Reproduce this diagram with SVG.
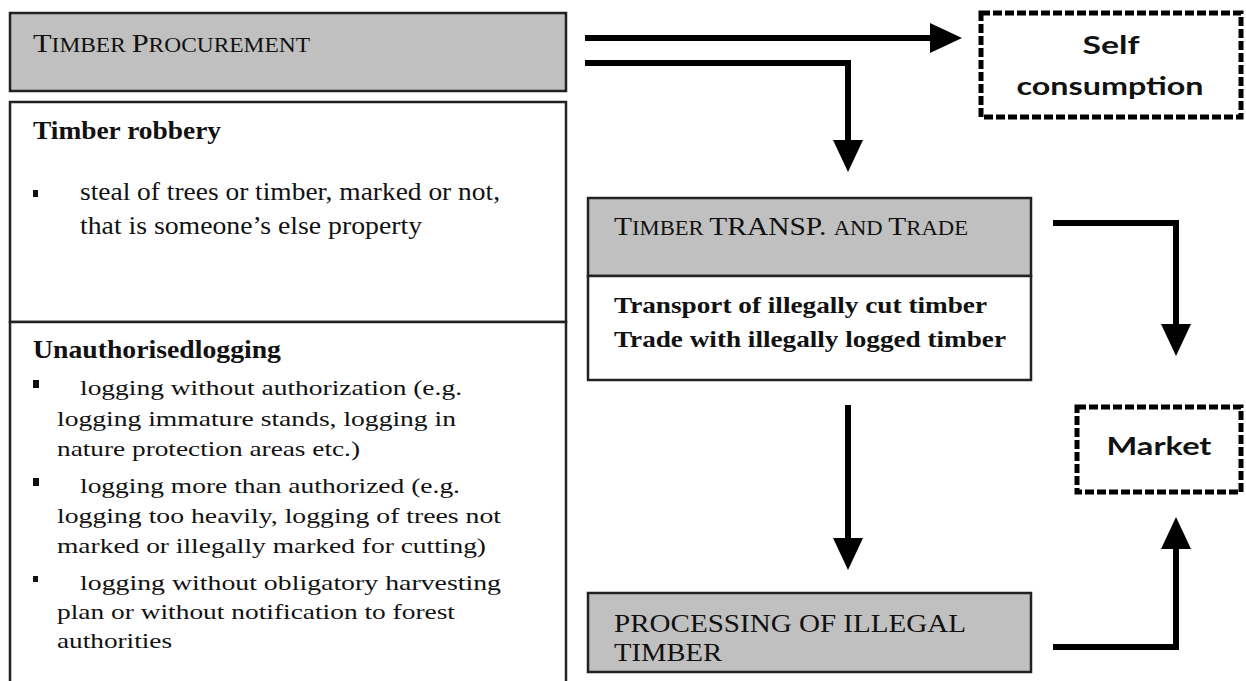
<svg xmlns="http://www.w3.org/2000/svg" width="1246" height="681" viewBox="0 0 1246 681">
<style>
.box{stroke:#222;stroke-width:2.5}
.gray{fill:#c0c0c0}
.white{fill:#fff}
.dot{fill:#fff;stroke:#000;stroke-width:5;stroke-dasharray:9 3}
.serif{font-family:"Liberation Serif","Times New Roman",serif;fill:#111}
.b{font-weight:bold}
.sans{font-family:Lato,"Open Sans","Liberation Sans",sans-serif;font-weight:bold;fill:#111;font-size:25px}
.conn{fill:none;stroke:#000;stroke-width:6}
</style>
<defs>
<marker id="ah" markerUnits="userSpaceOnUse" markerWidth="32" markerHeight="30" refX="0" refY="15" orient="auto">
<path d="M0,0 L32,15 L0,30 Z" fill="#000"/>
</marker>
</defs>
<rect width="1246" height="681" fill="#fff"/>
<g id="timber-procurement">
<rect class="box gray" x="10" y="13" width="556" height="78"/>
<text class="serif" x="33" y="52" font-size="26" textLength="277" lengthAdjust="spacingAndGlyphs">T<tspan font-size="20">IMBER </tspan>P<tspan font-size="20">ROCUREMENT</tspan></text>
</g>
<g id="timber-robbery">
<rect class="box white" x="10" y="102" width="556" height="220"/>
<text class="serif b" x="33" y="139" font-size="26" textLength="188" lengthAdjust="spacingAndGlyphs">Timber robbery</text>
<rect x="33" y="190" width="5" height="7" fill="#111"/>
<text class="serif" x="80" y="200" font-size="25" textLength="420" lengthAdjust="spacingAndGlyphs">steal of trees or timber, marked or not,</text>
<text class="serif" x="80" y="234" font-size="25" textLength="342" lengthAdjust="spacingAndGlyphs">that is someone’s else property</text>
</g>
<g id="unauthorised-logging">
<rect class="box white" x="10" y="322" width="556" height="370"/>
<text class="serif b" x="33" y="358" font-size="25" textLength="248" lengthAdjust="spacingAndGlyphs">Unauthorisedlogging</text>
<rect x="33" y="380" width="6" height="8" fill="#111"/>
<text class="serif" x="80" y="395" font-size="22" textLength="382" lengthAdjust="spacingAndGlyphs">logging without authorization (e.g.</text>
<text class="serif" x="57" y="426" font-size="22" textLength="399" lengthAdjust="spacingAndGlyphs">logging immature stands, logging in</text>
<text class="serif" x="57" y="456" font-size="22" textLength="303" lengthAdjust="spacingAndGlyphs">nature protection areas etc.)</text>
<rect x="33" y="478" width="6" height="8" fill="#111"/>
<text class="serif" x="80" y="493" font-size="22" textLength="380" lengthAdjust="spacingAndGlyphs">logging more than authorized (e.g.</text>
<text class="serif" x="57" y="523" font-size="22" textLength="444" lengthAdjust="spacingAndGlyphs">logging too heavily, logging of trees not</text>
<text class="serif" x="57" y="553" font-size="22" textLength="429" lengthAdjust="spacingAndGlyphs">marked or illegally marked for cutting)</text>
<rect x="33" y="576" width="5" height="6" fill="#111"/>
<text class="serif" x="80" y="590" font-size="22" textLength="421" lengthAdjust="spacingAndGlyphs">logging without obligatory harvesting</text>
<text class="serif" x="57" y="619" font-size="22" textLength="398" lengthAdjust="spacingAndGlyphs">plan or without notification to forest</text>
<text class="serif" x="57" y="648" font-size="22" textLength="115" lengthAdjust="spacingAndGlyphs">authorities</text>
</g>
<g id="self-consumption">
<rect class="dot" x="981" y="13" width="260" height="104"/>
<text class="sans" x="1111" y="54" text-anchor="middle" textLength="57" lengthAdjust="spacingAndGlyphs">Self</text>
<text class="sans" x="1110" y="95" text-anchor="middle" textLength="187" lengthAdjust="spacingAndGlyphs">consumption</text>
</g>
<g id="timber-transp-trade">
<rect class="box gray" x="588" y="198" width="443" height="78"/>
<rect class="box white" x="588" y="276" width="443" height="104"/>
<text class="serif" x="614" y="235" font-size="26" textLength="354" lengthAdjust="spacingAndGlyphs">T<tspan font-size="20">IMBER </tspan>TRANSP. <tspan font-size="20">AND </tspan>T<tspan font-size="20">RADE</tspan></text>
<text class="serif b" x="614" y="313" font-size="24" textLength="373" lengthAdjust="spacingAndGlyphs">Transport of illegally cut timber</text>
<text class="serif b" x="614" y="347" font-size="24" textLength="392" lengthAdjust="spacingAndGlyphs">Trade with illegally logged timber</text>
</g>
<g id="market">
<rect class="dot" x="1077" y="407" width="164" height="85"/>
<text class="sans" x="1159" y="455" text-anchor="middle" textLength="105" lengthAdjust="spacingAndGlyphs">Market</text>
</g>
<g id="processing">
<rect class="box gray" x="588" y="593" width="443" height="79"/>
<text class="serif" x="614" y="632" font-size="26" textLength="352" lengthAdjust="spacingAndGlyphs">PROCESSING OF ILLEGAL</text>
<text class="serif" x="614" y="661" font-size="26" textLength="108" lengthAdjust="spacingAndGlyphs">TIMBER</text>
</g>
<g id="connectors">
<path class="conn" d="M585,38 H930" marker-end="url(#ah)"/>
<path class="conn" d="M585,63 H848 V140" marker-end="url(#ah)"/>
<path class="conn" d="M1053,223 H1176 V324" marker-end="url(#ah)"/>
<path class="conn" d="M848,405 V538" marker-end="url(#ah)"/>
<path class="conn" d="M1053,647 H1176 V549" marker-end="url(#ah)"/>
</g>
</svg>
